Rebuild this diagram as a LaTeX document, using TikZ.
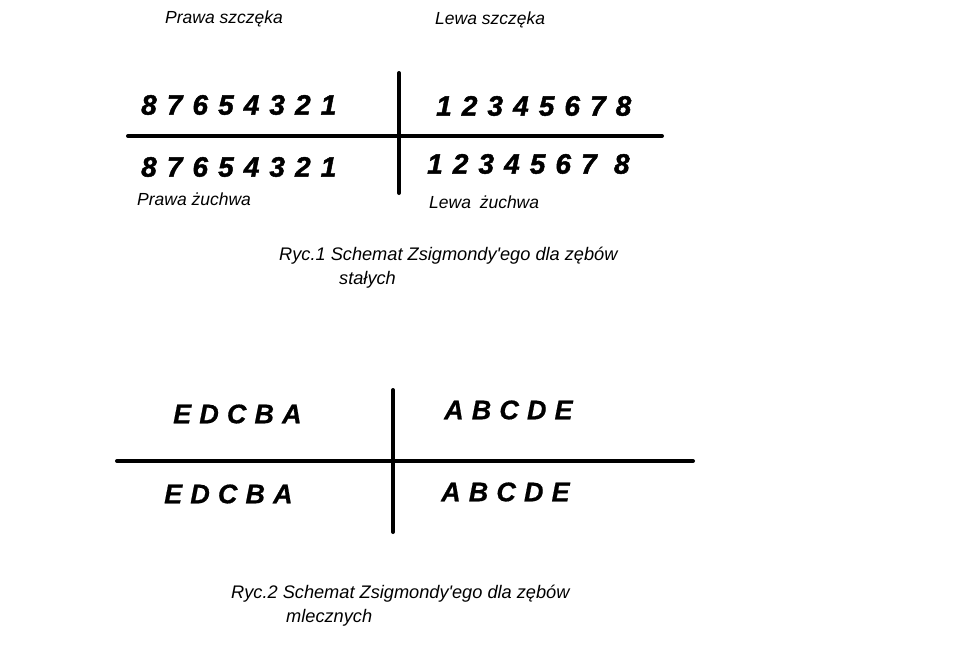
\documentclass[tikz,border=0pt]{standalone}
\usepackage{fontspec}
\setmainfont[Ligatures=NoCommon]{Liberation Sans}
\newfontfamily\digitfont[UprightFont=* Bold Italic,FakeBold=1.6]{Liberation Sans}
\newfontfamily\letterfont[UprightFont=* Bold Italic,FakeBold=0.6]{Liberation Sans}
\newcommand\numsp{\spaceskip=0.36em plus 0pt minus 0pt\relax}
\newcommand\letsp{\spaceskip=0.3em plus 0pt minus 0pt\relax}
\begin{document}
\begin{tikzpicture}[x=1pt,y=-1pt,
  lbltxt/.style={anchor=west,inner sep=0pt,font=\fontsize{17.5}{20}\selectfont\itshape},
  captxt/.style={anchor=west,inner sep=0pt,font=\fontsize{18.2}{22}\selectfont\itshape},
  numtxt/.style={anchor=west,inner sep=0pt,font=\digitfont\fontsize{28}{32}\selectfont},
  lettxt/.style={anchor=west,inner sep=0pt,font=\letterfont\fontsize{27}{32}\selectfont},
  barline/.style={line width=4pt,line cap=round}]
\useasboundingbox[fill=white] (0,0) rectangle (973,651);
% figure 1
\coordinate (h1l) at (128,136); \coordinate (h1r) at (662,136);
\coordinate (v1t) at (399,73); \coordinate (v1b) at (399,193);
\draw[barline] (h1l) -- (h1r);
\draw[barline] (v1t) -- (v1b);
\node[lbltxt] (ps) at (165,19) {Prawa szczęka};
\node[lbltxt] (ls) at (435,20) {Lewa szczęka};
\node[numtxt] (ul) at (141,105) {\numsp 8 7 6 5 4 3 2 1};
\node[numtxt] (ur) at (436,106) {\numsp 1 2 3 4 5 6 7 8};
\node[numtxt] (dl) at (141,167) {\numsp 8 7 6 5 4 3 2 1};
\node[numtxt] (dr) at (427,164) {\numsp 1 2 3 4 5 6 7\hspace{0.62em}8};
\node[lbltxt] (pz) at (137,199) {Prawa żuchwa};
\node[lbltxt] (lz) at (429,202) {Lewa\hspace{0.5em}żuchwa};
\node[captxt] (c1a) at (279,256) {Ryc.1 Schemat Zsigmondy\textquotesingle ego dla zębów};
\node[captxt] (c1b) at (339,280) {stałych};
% figure 2
\coordinate (h2l) at (117,461); \coordinate (h2r) at (693,461);
\coordinate (v2t) at (393,390); \coordinate (v2b) at (393,532);
\draw[barline] (h2l) -- (h2r);
\draw[barline] (v2t) -- (v2b);
\node[lettxt] (el) at (173,414) {\letsp E D C B A};
\node[lettxt] (er) at (444,410) {\letsp A B C D E};
\node[lettxt] (dl2) at (164,494) {\letsp E D C B A};
\node[lettxt] (dr2) at (441,492) {\letsp A B C D E};
\node[captxt] (c2a) at (231,594) {Ryc.2 Schemat Zsigmondy\textquotesingle ego dla zębów};
\node[captxt] (c2b) at (286,618) {mlecznych};
\end{tikzpicture}
\end{document}
